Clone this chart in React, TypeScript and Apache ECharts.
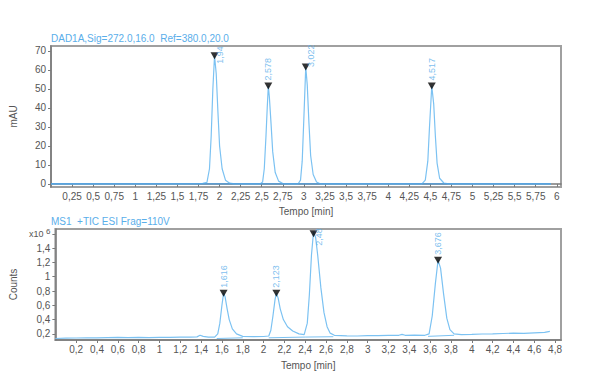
import React, { useEffect, useRef } from "react";
import * as echarts from "echarts";

// ---- Top chart (DAD1A) ----
const topTitle = "DAD1A,Sig=272.0,16.0  Ref=380.0,20.0";
const topTime = [0, 0.5, 1.0, 1.5, 1.75, 1.8, 1.85, 1.88, 1.9, 1.92, 1.94, 1.96, 1.98, 2.0, 2.03, 2.07, 2.12, 2.18, 2.3, 2.48, 2.51, 2.53, 2.55, 2.565, 2.578, 2.59, 2.61, 2.63, 2.66, 2.7, 2.75, 2.85, 2.93, 2.96, 2.98, 3.0, 3.022, 3.04, 3.06, 3.08, 3.11, 3.15, 3.2, 3.5, 4.0, 4.4, 4.44, 4.47, 4.49, 4.517, 4.54, 4.56, 4.58, 4.61, 4.66, 4.72, 5.0, 5.5, 5.93];
const topSignal = [0, 0, 0, 0, 0.2, 0.3, 0.8, 8, 25, 50, 67.5, 58, 38, 20, 8, 2, 0.4, 0, 0, 0, 1, 8, 25, 40, 51.5, 46, 32, 17, 6, 1.5, 0.2, 0, 0, 2, 12, 35, 61.5, 52, 32, 15, 5, 1, 0, 0, 0, 0, 2, 12, 30, 51.5, 42, 25, 11, 3, 0.5, 0, 0, 0, 0];
const topPeakTimes = [1.94, 2.578, 3.022, 4.517];
const topPeakHeights = [67.5, 51.5, 61.5, 51.5];
const topPeakLabels = ["1,94", "2,578", "3,022", "4,517"];
const topXTicks = [0.25, 0.5, 0.75, 1, 1.25, 1.5, 1.75, 2, 2.25, 2.5, 2.75, 3, 3.25, 3.5, 3.75, 4, 4.25, 4.5, 4.75, 5, 5.25, 5.5, 5.75, 6];
const topYTicks = [0, 10, 20, 30, 40, 50, 60, 70];

// ---- Bottom chart (MS1 TIC) ----
const botTitle = "MS1  +TIC ESI Frag=110V";
const botTime = [0, 0.1, 0.2, 0.3, 0.4, 0.5, 0.6, 0.7, 0.8, 0.9, 1.0, 1.1, 1.2, 1.3, 1.36, 1.39, 1.42, 1.47, 1.53, 1.56, 1.58, 1.6, 1.616, 1.63, 1.65, 1.67, 1.7, 1.74, 1.8, 1.9, 2.0, 2.05, 2.07, 2.09, 2.11, 2.123, 2.14, 2.16, 2.19, 2.23, 2.28, 2.34, 2.39, 2.42, 2.44, 2.46, 2.48, 2.5, 2.52, 2.55, 2.58, 2.61, 2.64, 2.68, 2.8, 2.9, 3.0, 3.1, 3.2, 3.3, 3.33, 3.36, 3.45, 3.55, 3.59, 3.62, 3.65, 3.676, 3.7, 3.73, 3.76, 3.79, 3.83, 3.9, 4.0, 4.1, 4.2, 4.3, 4.4, 4.5, 4.6, 4.7, 4.75];
const botSignal = [0.135, 0.14, 0.142, 0.145, 0.143, 0.147, 0.15, 0.146, 0.15, 0.148, 0.15, 0.152, 0.155, 0.153, 0.158, 0.18, 0.165, 0.155, 0.155, 0.2, 0.35, 0.6, 0.77, 0.72, 0.55, 0.4, 0.27, 0.2, 0.165, 0.162, 0.163, 0.17, 0.25, 0.45, 0.68, 0.77, 0.7, 0.55, 0.4, 0.3, 0.24, 0.2, 0.19, 0.35, 0.75, 1.3, 1.63, 1.55, 1.3, 0.85, 0.5, 0.3, 0.21, 0.18, 0.172, 0.17, 0.175, 0.176, 0.178, 0.18, 0.192, 0.18, 0.182, 0.18, 0.2, 0.45, 0.9, 1.23, 1.12, 0.75, 0.42, 0.26, 0.2, 0.19, 0.192, 0.198, 0.2, 0.205, 0.21, 0.208, 0.215, 0.22, 0.235];
const botPeakTimes = [1.616, 2.123, 2.48, 3.676];
const botPeakHeights = [0.77, 0.77, 1.6, 1.23];
const botPeakLabels = ["1,616", "2,123", "2,48", "3,676"];
const botBaseStart = [1.55, 2.05, 2.4, 3.58];
const botBaseEnd = [1.8, 2.4, 2.67, 3.83];
const botBaseStartVal = [0.135, 0.145, 0.155, 0.165];
const botBaseEndVal = [0.145, 0.155, 0.16, 0.18];
const botXTicks = [0.2, 0.4, 0.6, 0.8, 1, 1.2, 1.4, 1.6, 1.8, 2, 2.2, 2.4, 2.6, 2.8, 3, 3.2, 3.4, 3.6, 3.8, 4, 4.2, 4.4, 4.6, 4.8];
const botYTicks = [0.2, 0.4, 0.6, 0.8, 1, 1.2, 1.4, 1.6];

const LINE = "#7cc2f2";
const BLUE_TEXT = "#5aaeea";
const TICK_TEXT = "#555";
const FONT = "Liberation Sans";

const fmt = (v: number) => String(Math.round(v * 1000) / 1000).replace(".", ",");

function peakSeries(times: number[], heights: number[], labels: string[], xi: number, special: Record<string, number[]>) {
  return {
    type: "scatter",
    xAxisIndex: xi,
    yAxisIndex: xi,
    symbol: "triangle",
    symbolRotate: 180,
    symbolSize: [8, 7],
    itemStyle: { color: "#000" },
    z: 5,
    data: times.map((t, i) => {
      const sp = special[labels[i]];
      return {
        value: [t, heights[i]],
        label: sp
          ? { show: true, formatter: labels[i], position: "right", distance: 1, rotate: 90, align: "left", verticalAlign: "middle", offset: sp, color: BLUE_TEXT, fontSize: 9, fontFamily: FONT }
          : { show: true, formatter: labels[i], position: "top", distance: 2, rotate: 90, align: "left", verticalAlign: "middle", color: BLUE_TEXT, fontSize: 9, fontFamily: FONT },
      };
    }),
  };
}

export default function App() {
  const ref = useRef<HTMLDivElement>(null);
  useEffect(() => {
    if (!ref.current) return;
    const chart = echarts.init(ref.current, undefined, { renderer: "svg" });
    const axisLine = { show: true, lineStyle: { color: "#7a7a7a", width: 1.5 } };
    const labelStyle = { color: TICK_TEXT, fontSize: 10, fontFamily: FONT };
    const option: any = {
      animation: false,
      backgroundColor: "#fff",
      title: [
        { text: topTitle, left: 51, top: 33, padding: 0, textStyle: { color: BLUE_TEXT, fontSize: 10, fontWeight: "normal", fontFamily: FONT } },
        { text: botTitle, left: 51, top: 216, padding: 0, textStyle: { color: BLUE_TEXT, fontSize: 10, fontWeight: "normal", fontFamily: FONT } },
      ],
      grid: [
        { left: 49, top: 46, width: 512, height: 141, show: true, borderColor: "#a0a0a0", borderWidth: 2 },
        { left: 50, top: 229, width: 511, height: 114, show: true, borderColor: "#a0a0a0", borderWidth: 2 },
      ],
      xAxis: [
        {
          type: "value", gridIndex: 0, min: 0, max: 6.05,
          name: "Tempo [min]", nameLocation: "middle", nameGap: 19,
          nameTextStyle: { color: TICK_TEXT, fontSize: 10, fontFamily: FONT },
          axisLine, splitLine: { show: false },
          axisTick: { show: true, length: 3, customValues: topXTicks, lineStyle: { color: "#7a7a7a" } },
          axisLabel: { ...labelStyle, margin: 4, customValues: topXTicks, formatter: fmt },
        },
        {
          type: "value", gridIndex: 1, min: 0, max: 4.857,
          name: "Tempo [min]", nameLocation: "middle", nameGap: 20,
          nameTextStyle: { color: TICK_TEXT, fontSize: 10, fontFamily: FONT },
          axisLine, splitLine: { show: false },
          axisTick: { show: true, length: 3, customValues: botXTicks, lineStyle: { color: "#7a7a7a" } },
          axisLabel: { ...labelStyle, margin: 4, customValues: botXTicks, formatter: fmt },
        },
      ],
      yAxis: [
        {
          type: "value", gridIndex: 0, min: -1.6, max: 72.6,
          name: "mAU", nameLocation: "middle", nameGap: 33, nameRotate: 90,
          nameTextStyle: { color: TICK_TEXT, fontSize: 10, fontFamily: FONT },
          axisLine, splitLine: { show: false },
          axisTick: { show: true, length: 3, customValues: topYTicks, lineStyle: { color: "#7a7a7a" } },
          axisLabel: { ...labelStyle, margin: 5, customValues: topYTicks, formatter: fmt },
        },
        {
          type: "value", gridIndex: 1, min: 0.114, max: 1.668,
          name: "Counts", nameLocation: "middle", nameGap: 35, nameRotate: 90,
          nameTextStyle: { color: TICK_TEXT, fontSize: 10, fontFamily: FONT },
          axisLine, splitLine: { show: false },
          axisTick: { show: true, length: 3, customValues: botYTicks, lineStyle: { color: "#7a7a7a" } },
          axisLabel: {
            ...labelStyle, margin: 5, customValues: botYTicks,
            formatter: (v: number) => (Math.abs(v - 1.6) < 1e-6 ? "{b|x10 }{s|6}" : fmt(v)),
            rich: {
              b: { color: TICK_TEXT, fontSize: 9, fontFamily: FONT },
              s: { color: TICK_TEXT, fontSize: 8, fontFamily: FONT, padding: [0, 0, 5, 0] },
            },
          },
        },
      ],
      series: [
        {
          type: "line", xAxisIndex: 0, yAxisIndex: 0, showSymbol: false, z: 2,
          lineStyle: { color: LINE, width: 1.2 },
          data: topTime.map((t, i) => [t, topSignal[i]]),
        },
        {
          type: "line", xAxisIndex: 0, yAxisIndex: 0, showSymbol: false, z: 3,
          lineStyle: { color: "#4a9de0", width: 1.2 },
          data: [[topTime[0], 0], [topTime[topTime.length - 1], 0]],
        },
        {
          type: "line", xAxisIndex: 1, yAxisIndex: 1, showSymbol: false, z: 2,
          lineStyle: { color: LINE, width: 1.2 },
          data: botTime.map((t, i) => [t, botSignal[i]]),
        },
        ...botBaseStart.map((s, i) => ({
          type: "line", xAxisIndex: 1, yAxisIndex: 1, showSymbol: false, z: 2,
          lineStyle: { color: LINE, width: 1 },
          data: [[s, botBaseStartVal[i]], [botBaseEnd[i], botBaseEndVal[i]]],
        })),
        peakSeries(topPeakTimes, topPeakHeights, topPeakLabels, 0, { "1,94": [-8, 0], "3,022": [0, 0] }),
        peakSeries(botPeakTimes, botPeakHeights, botPeakLabels, 1, { "2,48": [-12, 0] }),
      ],
    };
    chart.setOption(option);
    return () => chart.dispose();
  }, []);
  return <div ref={ref} style={{ position: "fixed", left: 0, top: 0, width: 611, height: 371 }} />;
}
